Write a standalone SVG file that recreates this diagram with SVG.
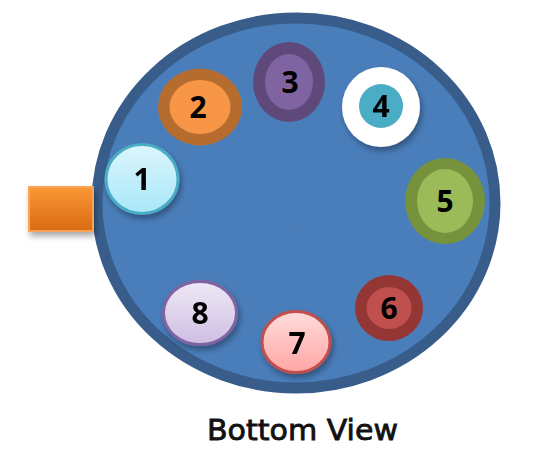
<svg xmlns="http://www.w3.org/2000/svg" width="534" height="452" viewBox="0 0 534 452">
<defs>
<filter id="sh" x="-30%" y="-30%" width="160%" height="170%">
<feDropShadow dx="2" dy="4" stdDeviation="3" flood-color="#000" flood-opacity="0.35"/>
</filter>
<linearGradient id="g1" x1="0" y1="0" x2="0" y2="1"><stop offset="0" stop-color="#dcf5fc"/><stop offset="1" stop-color="#a8e8f9"/></linearGradient>
<linearGradient id="g7" x1="0" y1="0" x2="0" y2="1"><stop offset="0" stop-color="#ffdcdc"/><stop offset="1" stop-color="#ffa6a4"/></linearGradient>
<linearGradient id="g8" x1="0" y1="0" x2="0" y2="1"><stop offset="0" stop-color="#eee8f5"/><stop offset="1" stop-color="#cfbfe4"/></linearGradient>
<linearGradient id="gr" x1="0" y1="0" x2="0" y2="1"><stop offset="0" stop-color="#fb9736"/><stop offset="1" stop-color="#da6b12"/></linearGradient>
</defs>
<style>
.num{font-family:"Open Sans","Liberation Sans",sans-serif;font-weight:700;font-size:30px;fill:#000;text-anchor:middle}
.lbl{font-family:"DejaVu Sans","Liberation Sans",sans-serif;font-weight:400;font-size:28px;fill:#111;stroke:#111;stroke-width:0.8px}
</style>
<g id="base">
<ellipse cx="296" cy="203" rx="199" ry="185" fill="#4a7ebb" stroke="#385d8a" stroke-width="11"/>
<text x="296" y="230" font-family="DejaVu Sans, sans-serif" font-size="8" fill="#6f7f99" text-anchor="middle">↵</text>
</g>
<g id="rect">
<rect x="29" y="187" width="64" height="44" fill="url(#gr)" stroke="#f9a457" stroke-width="2" filter="url(#sh)"/>
</g>
<g id="n1" filter="url(#sh)">
<ellipse cx="142" cy="179" rx="36" ry="34.5" fill="url(#g1)" stroke="#4bacc6" stroke-width="3"/>
<text class="num" x="142" y="190">1</text>
</g>
<g id="n2">
<ellipse cx="200" cy="107" rx="42" ry="38.5" fill="#b56c2e"/>
<ellipse cx="200" cy="107" rx="30.5" ry="27" fill="#f79646"/>
<text class="num" x="198" y="118">2</text>
</g>
<g id="n3">
<ellipse cx="289" cy="82" rx="36" ry="40" fill="#5f497a"/>
<ellipse cx="289" cy="82" rx="24" ry="28" fill="#8064a2"/>
<text class="num" x="290" y="93">3</text>
</g>
<g id="n4" filter="url(#sh)">
<ellipse cx="381" cy="107" rx="39" ry="40" fill="#ffffff"/>
<ellipse cx="381" cy="106" rx="22" ry="22" fill="#4bacc6"/>
<text class="num" x="381" y="117">4</text>
</g>
<g id="n5">
<ellipse cx="445" cy="201" rx="40" ry="43" fill="#76923c"/>
<ellipse cx="445" cy="201" rx="28" ry="32" fill="#9bbb59"/>
<text class="num" x="445" y="212">5</text>
</g>
<g id="n6">
<ellipse cx="389" cy="308" rx="34" ry="33" fill="#943634"/>
<ellipse cx="389" cy="308" rx="22.5" ry="21" fill="#c0504d"/>
<text class="num" x="389" y="319">6</text>
</g>
<g id="n7" filter="url(#sh)">
<ellipse cx="296" cy="342" rx="34" ry="30.5" fill="url(#g7)" stroke="#c0504d" stroke-width="3"/>
<text class="num" x="297" y="354">7</text>
</g>
<g id="n8" filter="url(#sh)">
<ellipse cx="200" cy="313" rx="36.5" ry="31.5" fill="url(#g8)" stroke="#8064a2" stroke-width="3"/>
<text class="num" x="200" y="324">8</text>
</g>
<g id="caption">
<text class="lbl" x="207" y="440" textLength="191" lengthAdjust="spacingAndGlyphs">Bottom View</text>
</g>
</svg>
